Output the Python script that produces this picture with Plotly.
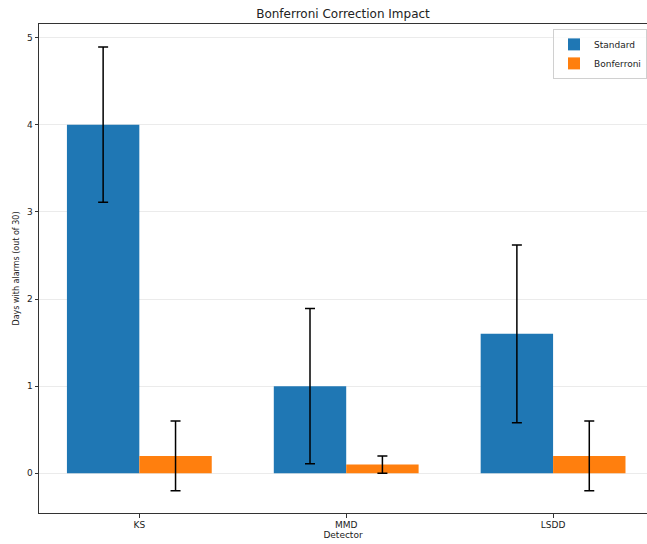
import plotly.graph_objects as go

detectors = ["KS", "MMD", "LSDD"]
standard = [4.0, 1.0, 1.6]
standard_err = [0.89, 0.89, 1.02]
bonferroni = [0.2, 0.1, 0.2]
bonferroni_err = [0.4, 0.1, 0.4]

FONT = "DejaVu Sans"
AX = "#333333"

fig = go.Figure()
fig.add_trace(go.Bar(
    x=detectors, y=standard, name="Standard",
    marker=dict(color="#1f77b4", line=dict(width=0)),
    error_y=dict(type="data", array=standard_err, color="black", thickness=1.5, width=5),
))
fig.add_trace(go.Bar(
    x=detectors, y=bonferroni, name="Bonferroni",
    marker=dict(color="#ff7f0e", line=dict(width=0)),
    error_y=dict(type="data", array=bonferroni_err, color="black", thickness=1.5, width=5),
))

fig.update_layout(
    width=647, height=544, autosize=False,
    margin=dict(l=39, r=0, t=24, b=31, autoexpand=False),
    paper_bgcolor="white", plot_bgcolor="white",
    font=dict(family=FONT, size=9, color="#222222"),
    barmode="group", bargap=0.3, bargroupgap=0,
    title=dict(text="Bonferroni Correction Impact", x=0.5, xref="paper", xanchor="center",
               y=1 - 14 / 544, yanchor="middle", font=dict(family=FONT, size=12, color="#222222")),
    showlegend=True,
    legend=dict(x=1, xanchor="right", y=0.99, yanchor="top",
                bgcolor="rgba(255,255,255,0.8)", bordercolor="#d0d0d0", borderwidth=1,
                font=dict(family=FONT, size=9, color="#222222"),
                tracegroupgap=0, itemwidth=30),
    xaxis=dict(
        range=[-0.485, 2.454], showline=True, mirror=True, linecolor=AX, linewidth=1,
        ticks="outside", ticklen=3.5, tickcolor=AX, showgrid=False, automargin=False,
        title=dict(text="Detector", standoff=2, font=dict(family=FONT, size=9)),
    ),
    yaxis=dict(
        range=[-0.455, 5.155], dtick=1, tick0=0, showline=True, mirror=True, automargin=False,
        linecolor=AX, linewidth=1, ticks="outside", ticklen=3.5, tickcolor=AX,
        showgrid=True, gridcolor="#ebebeb", gridwidth=0.8, zeroline=False,
        title=dict(text="Days with alarms (out of 30)", standoff=6, font=dict(family=FONT, size=8)),
    ),
)

fig.write_html(
    "out.html",
    config={"displayModeBar": False},
    post_script="document.body.style.margin='0';document.body.style.overflow='hidden';",
)
